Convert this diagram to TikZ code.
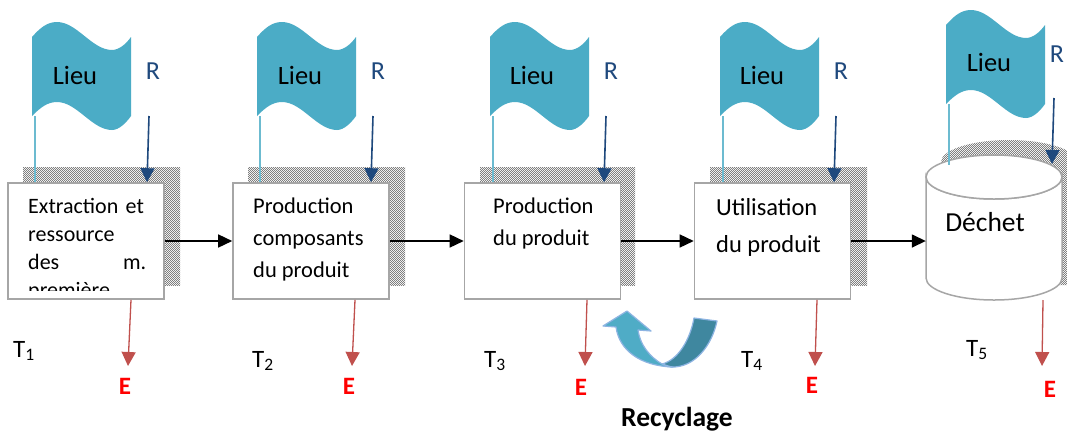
\documentclass[tikz,border=0pt]{standalone}
\usepackage{fontspec}
\setmainfont{Carlito}
\usetikzlibrary{arrows.meta,patterns}
\definecolor{flagc}{HTML}{4BACC6}
\definecolor{polec}{HTML}{6CBBD0}
\definecolor{resc}{HTML}{1F497D}
\definecolor{emic}{HTML}{C0504D}
\definecolor{boxc}{HTML}{A6A6A6}
\definecolor{darkc}{HTML}{3F879F}
\definecolor{lightc}{HTML}{4FACC6}
\definecolor{edgec}{HTML}{8DB4E2}
\pgfdeclarepatternformonly{checker}{\pgfqpoint{0pt}{0pt}}{\pgfqpoint{2.4pt}{2.4pt}}{\pgfqpoint{2.4pt}{2.4pt}}{%
  \pgfpathrectangle{\pgfqpoint{0pt}{0pt}}{\pgfqpoint{1.2pt}{1.2pt}}%
  \pgfpathrectangle{\pgfqpoint{1.2pt}{1.2pt}}{\pgfqpoint{1.2pt}{1.2pt}}%
  \pgfusepath{fill}}
\tikzset{
  shadowfill/.style={pattern=checker,pattern color=black!50,draw=none},
  procbox/.style={draw=boxc,line width=1.6pt,fill=white,minimum width=156pt,minimum height=116pt,inner sep=0pt},
  boxtext/.style={anchor=north west,align=left,inner sep=0pt},
  flagtext/.style={font=\fontsize{26.5}{30}\selectfont,text=black},
  rlabel/.style={font=\fontsize{26}{30}\selectfont,text=resc},
  tlabel/.style={font=\fontsize{25}{29}\selectfont,text=black},
  elabel/.style={font=\fontsize{25}{29}\selectfont\bfseries,text=red},
  pole/.style={draw=polec,line width=1.6pt},
  resarrow/.style={draw=resc,line width=1.6pt,-{Triangle[length=14pt,width=14pt]}},
  emiarrow/.style={draw=emic,line width=1.3pt,-{Triangle[length=14pt,width=14pt]}},
  flowarrow/.style={draw=black,line width=1.5pt,-{Triangle[length=14pt,width=13pt]}},
}
\newcommand{\flagshape}[2]{%
  \fill[flagc,shift={(#1,#2)}] (0,0)
    .. controls (8,-9) and (15,-15) .. (25,-15)
    .. controls (45,-15) and (60,13) .. (80,13)
    .. controls (87,13) and (94,7) .. (99,0)
    -- (99,79)
    .. controls (94,86) and (87,93) .. (80,93)
    .. controls (60,93) and (45,65) .. (25,65)
    .. controls (15,65) and (8,71) .. (0,79) -- cycle;}
\begin{document}
\begin{tikzpicture}[x=1pt,y=-1pt]
\useasboundingbox (0,0) rectangle (1067,432);
\fill[white] (0,0) rectangle (1067,432);
% shadows
\fill[shadowfill] (23,167) rectangle (180,285);
\fill[shadowfill] (248,167) rectangle (405,285);
\fill[shadowfill] (480,167) rectangle (635,285);
\fill[shadowfill] (710,167) rectangle (867,285);
\begin{scope}
\clip (900,130) rectangle (1067,300);
\fill[shadowfill] (941,162) arc[start angle=180,end angle=360,x radius=68,y radius=22] -- (1077,285) -- (941,285) -- cycle;
\end{scope}
% flags
\flagshape{32}{37}\flagshape{257}{37}\flagshape{490}{37}\flagshape{720}{37}\flagshape{946}{25}
\node[flagtext] (l1) at (75,75) {Lieu};
\node[flagtext] (l2) at (300,75) {Lieu};
\node[flagtext] (l3) at (532,75) {Lieu};
\node[flagtext] (l4) at (762,75) {Lieu};
\node[flagtext] (l5) at (989,62) {Lieu};
% boxes
\node[procbox] (b1) at (86,241) {};
\node[procbox] (b2) at (311,241) {};
\node[procbox] (b3) at (542.5,241) {};
\node[procbox] (b4) at (772.5,241) {};
% cylinder
\node[inner sep=0pt,minimum width=136pt,minimum height=145pt] (b5) at (994,227.5) {};
\draw[draw=boxc,line width=1.5pt,fill=white] (926,177) -- (926,278)
  arc[start angle=180,end angle=0,x radius=68,y radius=22] -- (1062,177)
  arc[start angle=0,end angle=180,x radius=68,y radius=22] -- cycle;
\draw[draw=boxc,line width=1.5pt,fill=white] (994,177) ellipse[x radius=68,y radius=22];
% box texts
\begin{scope}
\clip (10,185) rectangle (162,290);
\node[boxtext,text width=118pt,font=\fontsize{22}{28}\selectfont] (t1) at (28,198) {Extraction et\\ressource\\des\hfill m.\\première};
\end{scope}
\node[boxtext,font=\fontsize{22.5}{32}\selectfont] (t2) at (253,198) {Production\\composants\\du produit};
\node[boxtext,font=\fontsize{22.5}{32}\selectfont] (t3) at (493,198) {Production\\du produit};
\node[boxtext,font=\fontsize{24.5}{37}\selectfont] (t4) at (716,198) {Utilisation\\du produit};
\node[flagtext,font=\fontsize{27.5}{31}\selectfont] (t5) at (985,222) {Déchet};
% R
\node[rlabel] (r1) at (153,71) {R};
\node[rlabel] (r2) at (378,71) {R};
\node[rlabel] (r3) at (611,71) {R};
\node[rlabel] (r4) at (841,71) {R};
\node[rlabel] (r5) at (1057,54) {R};
\coordinate (rs1) at (149,116);
\coordinate (rs2) at (373,116);
\coordinate (rs3) at (606,116);
\coordinate (rs4) at (836,116);
\coordinate (rs5) at (1054,98);
\path (b1.north) ++(61,0) coordinate (re1);
\path (b2.north) ++(60,0) coordinate (re2);
\path (b3.north) ++(61.5,0) coordinate (re3);
\path (b4.north) ++(61.5,0) coordinate (re4);
\coordinate (re5) at (1052,164);
\draw[resarrow] (rs1) -- (re1);
\draw[resarrow] (rs2) -- (re2);
\draw[resarrow] (rs3) -- (re3);
\draw[resarrow] (rs4) -- (re4);
\draw[resarrow] (rs5) -- (re5);
% poles
\coordinate (ps1) at (35,116);\coordinate (ps2) at (260,116);\coordinate (ps3) at (493,116);\coordinate (ps4) at (723,116);\coordinate (ps5) at (949,104);
\path (b1.north -| ps1) coordinate (pe1);
\path (b2.north -| ps2) coordinate (pe2);
\path (b3.north -| ps3) coordinate (pe3);
\path (b4.north -| ps4) coordinate (pe4);
\coordinate (pe5) at (949,165);
\foreach \i in {1,...,5}{\draw[pole] (ps\i) -- (pe\i);}
% flow
\draw[flowarrow] (b1.east) -- (b2.west);
\draw[flowarrow] (b2.east) -- (b3.west);
\draw[flowarrow] (b3.east) -- (b4.west);
\draw[flowarrow] (b4.east) -- (b4.east -| b5.west);
% E
\node[elabel] (e1) at (125,386) {E};
\node[elabel] (e2) at (349,386) {E};
\node[elabel] (e3) at (581,387) {E};
\node[elabel] (e4) at (812,385) {E};
\node[elabel] (e5) at (1050,389) {E};
\path (b1.south) ++(45,0) coordinate (es1);
\path (b2.south) ++(44,0) coordinate (es2);
\path (b3.south) ++(44.5,0) coordinate (es3);
\path (b4.south) ++(44.5,0) coordinate (es4);
\coordinate (es5) at (1043,300);
\coordinate (ee1) at (128,366);\coordinate (ee2) at (352,366);\coordinate (ee3) at (585,366);\coordinate (ee4) at (815,366);\coordinate (ee5) at (1042,366);
\foreach \i in {1,...,5}{\draw[emiarrow] (es\i) -- (ee\i);}
% T
\node[tlabel] (T1) at (24,351) {T\textsubscript{1}};
\node[tlabel] (T2) at (263,361) {T\textsubscript{2}};
\node[tlabel] (T3) at (495,361) {T\textsubscript{3}};
\node[tlabel] (T4) at (752,361) {T\textsubscript{4}};
\node[tlabel] (T5) at (977,350) {T\textsubscript{5}};
% recycle
\draw[draw=edgec,line width=1.2pt,fill=darkc,line join=round] (694,318) -- (717,321)
  .. controls (712,345) and (695,368) .. (671,367) .. controls (668,367) and (665,366) .. (662,364)
  .. controls (678,360) and (690,340) .. (694,318) -- cycle;
\draw[draw=edgec,line width=1.2pt,fill=lightc,line join=round] (627,311) -- (603,326) -- (616,327)
  .. controls (619,350) and (640,366) .. (673,367)
  .. controls (670,367) and (666,365) .. (662,364)
  .. controls (650,357) and (640,345) .. (638,330) -- (651,331) -- cycle;
\node[font=\fontsize{27.5}{31}\selectfont\bfseries] (rec) at (677,419) {Recyclage};
\end{tikzpicture}
\end{document}
